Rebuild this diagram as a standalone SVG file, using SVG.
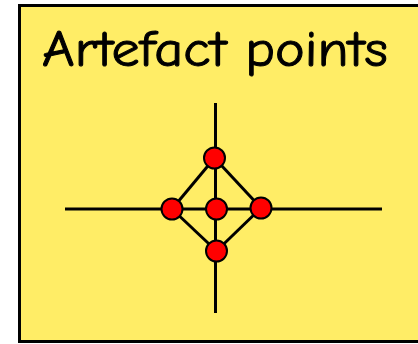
<svg xmlns="http://www.w3.org/2000/svg" width="418" height="344" viewBox="0 0 418 344">
<style>
.ln{stroke:#000;stroke-width:3;fill:none}
.pt{fill:#ff0000;stroke:#000;stroke-width:2}
</style>
<rect x="0" y="0" width="418" height="344" fill="#fff"/>
<rect x="19.5" y="5.5" width="410" height="336" fill="#ffed66" stroke="#000" stroke-width="3"/>
<text x="42" y="66" font-family="'Comic Sans MS','Comic Neue','DejaVu Sans',sans-serif" font-size="50" stroke="#000" stroke-width="1" textLength="346" lengthAdjust="spacingAndGlyphs">Artefact points</text>
<g id="connectors">
<line class="ln" x1="65" y1="209" x2="382" y2="209"/>
<line class="ln" x1="215.5" y1="103" x2="215.5" y2="313"/>
<line class="ln" x1="214.5" y1="158" x2="172" y2="209"/>
<line class="ln" x1="214.5" y1="158" x2="261" y2="208"/>
<line class="ln" x1="172" y1="209" x2="216.5" y2="251"/>
<line class="ln" x1="261" y1="208" x2="216.5" y2="251"/>
</g>
<g id="p-top"><circle class="pt" cx="214.5" cy="158" r="10.5"/></g>
<g id="p-left"><circle class="pt" cx="172" cy="209" r="10.5"/></g>
<g id="p-center"><circle class="pt" cx="216.5" cy="209" r="10.5"/></g>
<g id="p-right"><circle class="pt" cx="261" cy="208" r="10.5"/></g>
<g id="p-bottom"><circle class="pt" cx="216.5" cy="251" r="10.5"/></g>
</svg>
